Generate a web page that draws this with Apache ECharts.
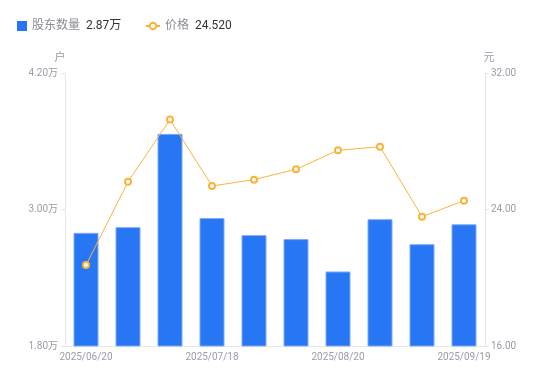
<!DOCTYPE html>
<html>
<head>
<meta charset="utf-8">
<script src="https://cdn.jsdelivr.net/npm/echarts@6/dist/echarts.min.js"></script>
<style>html,body{margin:0;padding:0;background:#fff}#c{width:550px;height:381px}</style>
</head>
<body>
<div id="c"></div>
<script>
var categories = ['2025/06/20','2025/06/30','2025/07/10','2025/07/18','2025/07/31','2025/08/10','2025/08/20','2025/08/31','2025/09/10','2025/09/19'];
var holders = [27950, 28450, 36650, 29250, 27750, 27400, 24550, 29150, 26950, 28700];
var prices = [20.74, 25.62, 29.27, 25.38, 25.75, 26.36, 27.47, 27.68, 23.58, 24.52];
var leftTicks = { min: 18000, max: 42000, interval: 12000 };
var rightTicks = { min: 16, max: 32, interval: 8 };
var legendValues = { '股东数量': '2.87万', '价格': '24.520' };

var chart = echarts.init(document.getElementById('c'));
var font = 'Roboto, "Noto Sans CJK SC", sans-serif';
var axisGray = '#9a9ca8';
function legendFmt(n) { return '{n|' + n + '}  {v|' + legendValues[n] + '}'; }
var legendText = {
  rich: {
    n: { color: '#8a8d99', fontSize: 12, fontFamily: font },
    v: { color: '#333', fontSize: 12, fontFamily: font }
  }
};
chart.setOption({
  animation: false,
  textStyle: { fontFamily: font },
  legend: [{
    left: 12, top: 15,
    itemWidth: 10, itemHeight: 10,
    data: [{ name: '股东数量', icon: 'rect', itemStyle: { borderWidth: 0 } }],
    formatter: legendFmt, textStyle: legendText
  }, {
    left: 140, top: 15,
    itemWidth: 14, itemHeight: 8,
    data: [{ name: '价格' }],
    formatter: legendFmt, textStyle: legendText
  }],
  grid: { left: 65, right: 65, top: 73, bottom: 35 },
  xAxis: {
    type: 'category',
    data: categories,
    axisLine: { lineStyle: { color: '#e6e6e6' } },
    axisTick: { show: false },
    axisLabel: { interval: 2, color: axisGray, fontSize: 10, margin: 6 }
  },
  yAxis: [{
    type: 'value', name: '户', position: 'left',
    min: leftTicks.min, max: leftTicks.max, interval: leftTicks.interval,
    nameTextStyle: { color: axisGray, fontSize: 11, padding: [0, 10, 0, 0] },
    nameGap: 9,
    axisLine: { show: true, lineStyle: { color: '#e6e6e6' } },
    axisTick: { show: true, length: 4, lineStyle: { color: '#e6e6e6' } },
    splitLine: { show: false },
    axisLabel: { color: axisGray, fontSize: 10, margin: 7,
      formatter: function (v) { return (v / 10000).toFixed(2) + '万'; } }
  }, {
    type: 'value', name: '元', position: 'right',
    min: rightTicks.min, max: rightTicks.max, interval: rightTicks.interval,
    nameTextStyle: { color: axisGray, fontSize: 11, padding: [0, 0, 0, 8] },
    nameGap: 9,
    axisLine: { show: true, lineStyle: { color: '#e6e6e6' } },
    axisTick: { show: true, length: 4, lineStyle: { color: '#e6e6e6' } },
    splitLine: { show: false },
    axisLabel: { color: axisGray, fontSize: 10, margin: 6,
      formatter: function (v) { return v.toFixed(2); } }
  }],
  series: [{
    name: '股东数量', type: 'bar', yAxisIndex: 0, data: holders,
    barWidth: 25,
    itemStyle: { color: '#2777f5', borderColor: '#7eaaf7', borderWidth: 1 }
  }, {
    name: '价格', type: 'line', yAxisIndex: 1, data: prices,
    symbol: 'emptyCircle', symbolSize: 6,
    lineStyle: { color: '#fbb33a', width: 1 },
    itemStyle: { color: '#fbb33a', borderWidth: 2 }
  }]
});
</script>
</body>
</html>
